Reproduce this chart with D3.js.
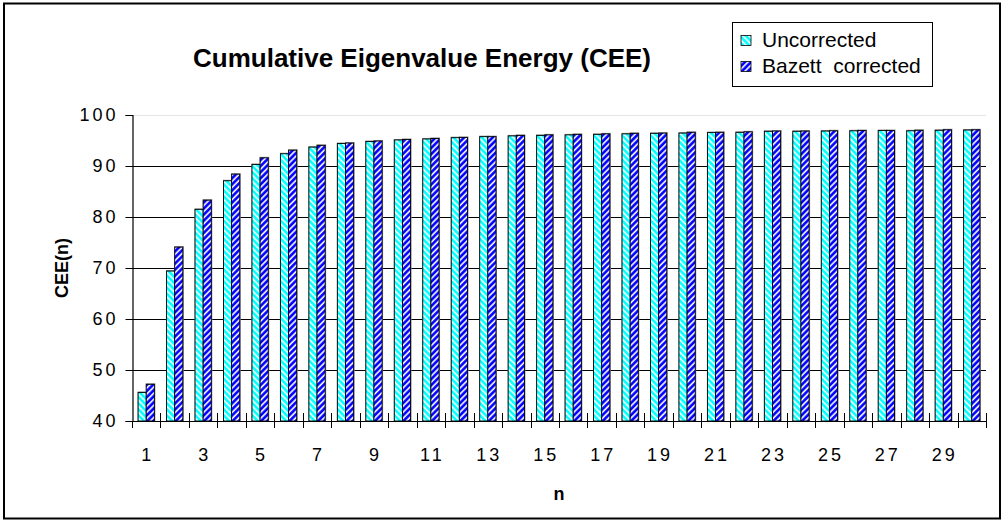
<!DOCTYPE html>
<html>
<head>
<meta charset="utf-8">
<script src="https://cdn.jsdelivr.net/npm/d3@7"></script>
<style>
  html, body { margin: 0; padding: 0; background: #fff; }
  svg { display: block; font-family: Arial, "Liberation Sans", sans-serif; }
</style>
</head>
<body>
<svg id="chart" width="1003" height="520"></svg>
<script>
// Component index n (1..30)
const categories = d3.range(1, 31);
// Cumulative eigenvalue energy, %
const uncorrected = [45.6, 69.4, 81.5, 87.1, 90.3, 92.4, 93.7, 94.4, 94.8, 95.1,
                     95.3, 95.55, 95.75, 95.9, 96.0, 96.1, 96.2, 96.3, 96.4, 96.45,
                     96.55, 96.6, 96.8, 96.8, 96.85, 96.9, 96.95, 96.9, 97.0, 97.05];
const corrected   = [47.2, 74.1, 83.3, 88.4, 91.6, 93.1, 94.05, 94.5, 94.9, 95.2,
                     95.4, 95.6, 95.75, 96.0, 96.1, 96.2, 96.3, 96.4, 96.45, 96.6,
                     96.6, 96.7, 96.85, 96.85, 96.9, 96.95, 96.95, 97.0, 97.1, 97.1];
const seriesNames = ["Uncorrected", "Bazett  corrected"];
const yTicks = [40, 50, 60, 70, 80, 90, 100];
const xTickLabels = categories.filter(n => n % 2 === 1);

const svg = d3.select("#chart");
const plot = { left: 132, right: 986, top: 115, bottom: 421 };
const tickFont = 18, tickSpacing = 3;

// Hatch patterns
const defs = svg.append("defs");
function hatch(id, color, angle) {
  const p = defs.append("pattern")
    .attr("id", id)
    .attr("patternUnits", "userSpaceOnUse")
    .attr("width", 4.3).attr("height", 4.3)
    .attr("patternTransform", `rotate(${angle})`);
  p.append("rect").attr("width", 4.3).attr("height", 4.3).attr("fill", color);
  p.append("rect").attr("x", 0.4).attr("width", 1.3).attr("height", 4.3).attr("fill", "#ffffff");
  p.append("rect").attr("x", 0.1).attr("width", 1.9).attr("height", 4.3).attr("fill", "#ffffff").attr("opacity", 0.5);
}
hatch("hatchU", "#00ffff", -45);
hatch("hatchC", "#0000ff", 45);
const fills = ["url(#hatchU)", "url(#hatchC)"];

// Outer frame
svg.append("rect")
  .attr("x", 4).attr("y", 3.5).attr("width", 996).attr("height", 515)
  .attr("fill", "#fff").attr("stroke", "#000").attr("stroke-width", 2);

// Scales
const x = d3.scaleBand().domain(categories).range([plot.left, plot.right]).padding(0);
const x1 = d3.scaleBand().domain([0, 1]).range([0, x.bandwidth()]).paddingInner(0).paddingOuter(0.75);
const y = d3.scaleLinear().domain([40, 100]).range([plot.bottom, plot.top]);

// Gridlines
svg.append("g").selectAll("line").data(yTicks.filter(v => v > 40)).join("line")
  .attr("x1", plot.left).attr("x2", plot.right)
  .attr("y1", d => Math.round(y(d)) + 0.5).attr("y2", d => Math.round(y(d)) + 0.5)
  .attr("stroke", d => d === 100 ? "#e6e6e6" : "#000").attr("stroke-width", 1);

// Bars
const groups = svg.append("g").selectAll("g").data(categories).join("g")
  .attr("transform", d => `translate(${x(d)},0)`);
const pairs = (d, i) => [uncorrected[i], corrected[i]].map((v, k) => ({ v, k }));
groups.selectAll("rect.shadow").data(pairs).join("rect")
  .attr("class", "shadow")
  .attr("x", d => x1(d.k) - 0.5).attr("y", d => y(d.v) - 1)
  .attr("width", x1.bandwidth() + 1.5).attr("height", d => y(40) - y(d.v) + 1)
  .attr("fill", "#8a8a8a");
groups.selectAll("rect.bar").data(pairs).join("rect")
  .attr("class", "bar")
  .attr("x", d => x1(d.k)).attr("y", d => y(d.v))
  .attr("width", x1.bandwidth()).attr("height", d => y(40) - y(d.v))
  .attr("fill", d => fills[d.k]).attr("stroke", "#000").attr("stroke-width", 0.9);

// Y axis
const yAxis = d3.axisLeft(y).tickValues(yTicks).tickSize(7).tickPadding(10 - tickSpacing);
const gy = svg.append("g").attr("transform", `translate(${plot.left + 0.5},0)`).call(yAxis);
gy.select(".domain").attr("stroke", "#000").attr("stroke-width", 1.2);
gy.selectAll(".tick line").attr("stroke", "#000");
gy.selectAll(".tick text").attr("font-size", tickFont).attr("letter-spacing", tickSpacing)
  .attr("fill", "#000").attr("font-family", "Arial, 'Liberation Sans', sans-serif");

// X axis: baseline with crossing ticks at category boundaries
const gx = svg.append("g");
gx.append("line")
  .attr("x1", plot.left).attr("x2", plot.right)
  .attr("y1", plot.bottom + 0.5).attr("y2", plot.bottom + 0.5)
  .attr("stroke", "#000").attr("stroke-width", 1.2);
const boundaries = categories.map(c => x(c)).concat([plot.right]);
gx.selectAll("line.tick").data(boundaries).join("line")
  .attr("class", "tick")
  .attr("x1", d => Math.round(d) + 0.5).attr("x2", d => Math.round(d) + 0.5)
  .attr("y1", (d, i) => i === 0 ? plot.bottom : plot.bottom - 8)
  .attr("y2", plot.bottom + 7)
  .attr("stroke", "#000").attr("stroke-width", 1);
gx.selectAll("text").data(xTickLabels).join("text")
  .attr("x", d => x(d) + x.bandwidth() / 2 + tickSpacing / 2)
  .attr("y", 461)
  .attr("text-anchor", "middle")
  .attr("font-size", tickFont).attr("letter-spacing", tickSpacing)
  .text(d => d);

// Axis titles
svg.append("text")
  .attr("transform", `translate(68,${(plot.top + plot.bottom) / 2}) rotate(-90)`)
  .attr("text-anchor", "middle")
  .attr("font-size", 18).attr("font-weight", "bold")
  .text("CEE(n)");
svg.append("text")
  .attr("x", (plot.left + plot.right) / 2).attr("y", 500)
  .attr("text-anchor", "middle")
  .attr("font-size", 18).attr("font-weight", "bold")
  .text("n");

// Title
svg.append("text")
  .attr("x", 193).attr("y", 67)
  .attr("font-size", 26).attr("font-weight", "bold")
  .text("Cumulative Eigenvalue Energy (CEE)");

// Legend
const legend = svg.append("g").attr("transform", "translate(732,22)");
legend.append("rect")
  .attr("x", 0.5).attr("y", 0.5).attr("width", 200).attr("height", 64)
  .attr("fill", "#fff").attr("stroke", "#000").attr("stroke-width", 1);
const items = legend.selectAll("g").data(seriesNames).join("g")
  .attr("transform", (d, i) => `translate(9,${13.5 + i * 26})`);
items.append("rect")
  .attr("width", 10).attr("height", 10)
  .attr("fill", (d, i) => fills[i]).attr("stroke", "#000").attr("stroke-width", 0.8);
items.append("text")
  .attr("x", 21).attr("y", 11.5)
  .attr("font-size", 21)
  .style("white-space", "pre")
  .text(d => d);
</script>
</body>
</html>
